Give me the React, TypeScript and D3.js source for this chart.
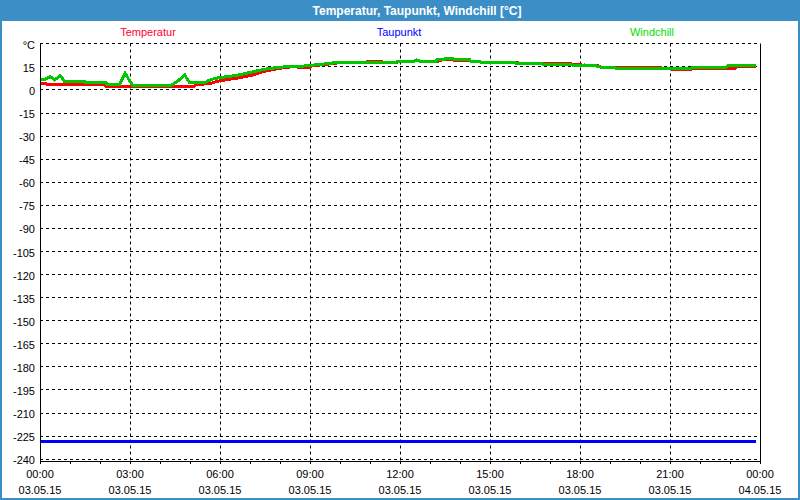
import React from "react";
import * as d3 from "d3";

const title = "Temperatur, Taupunkt, Windchill [°C]";
const seriesNames = ["Temperatur", "Taupunkt", "Windchill"];
const seriesColors = ["#ff0000", "#0000ff", "#00c800"];
const legendColors = ["#ff0033", "#0000ff", "#00dd00"];

const yTicks = d3.range(-240, 31, 15);
const xTickHours = [0, 3, 6, 9, 12, 15, 18, 21, 24];
const xTimeLabels = ["00:00", "03:00", "06:00", "09:00", "12:00", "15:00", "18:00", "21:00", "00:00"];
const xDateLabels = ["03.05.15", "03.05.15", "03.05.15", "03.05.15", "03.05.15", "03.05.15", "03.05.15", "03.05.15", "04.05.15"];

// hours since 03.05.15 00:00
const tempTimes = [0, 0.2, 0.25, 2.15, 2.2, 3.15, 3.38, 4.37, 4.42, 5.15, 5.2, 5.7, 5.93, 6.6, 7.04, 7.49, 7.93, 8.38, 8.7, 9.0, 9.05, 9.49, 9.8, 10.04, 10.38, 10.42, 10.88, 10.9, 11.38, 11.42, 11.9, 11.93, 12.49, 12.54, 12.66, 13.21, 13.35, 13.49, 13.77, 13.8, 14.32, 14.35, 14.66, 14.7, 15.82, 15.85, 16.0, 16.71, 16.75, 17.71, 17.75, 17.9, 17.93, 18.16, 18.2, 18.54, 18.66, 18.7, 19.16, 19.2, 20.71, 20.75, 21.04, 21.08, 21.71, 21.75, 23.16, 23.2, 23.88];
const tempValues = [3.9, 3.9, 3.2, 3.2, 2.1, 2.1, 1.7, 1.7, 2.1, 2.1, 3.0, 4.0, 5.4, 7.5, 9.1, 11.9, 13.6, 14.7, 14.5, 14.5, 15.3, 16.2, 17.0, 17.5, 17.5, 17.2, 17.2, 18.2, 18.2, 17.5, 17.5, 18.4, 18.4, 19.0, 18.4, 18.0, 19.0, 19.4, 19.6, 19.1, 19.1, 18.4, 18.4, 17.7, 17.7, 17.6, 17.1, 17.1, 16.6, 16.6, 16.0, 16.0, 16.0, 15.8, 15.6, 15.6, 15.0, 14.5, 14.5, 14.1, 14.1, 13.6, 13.4, 13.0, 13.0, 13.8, 13.8, 14.7, 14.7];

const dewTimes = [0, 23.88];
const dewValues = [-228.8, -228.8];

const chillTimes = [0, 0.17, 0.34, 0.49, 0.68, 0.82, 1.49, 1.53, 2.2, 2.23, 2.66, 2.84, 3.08, 3.37, 3.4, 4.27, 4.4, 4.6, 4.82, 4.99, 5.49, 5.6, 5.82, 5.93, 6.6, 7.04, 7.49, 7.93, 8.38, 8.99, 9.16, 9.49, 9.8, 11.35, 11.39, 11.88, 11.93, 12.49, 12.54, 12.66, 13.21, 13.23, 13.49, 13.5, 13.77, 13.8, 14.32, 14.35, 14.66, 14.7, 15.82, 15.85, 16.71, 16.75, 17.71, 17.75, 18.16, 18.2, 18.54, 18.58, 18.66, 18.7, 19.16, 19.2, 21.04, 21.08, 21.71, 21.75, 22.88, 22.92, 23.88];
const chillValues = [6.5, 6.5, 8.4, 6.2, 9.0, 5.2, 5.2, 4.3, 4.3, 3.4, 3.4, 10.4, 2.8, 2.8, 2.3, 2.3, 3.0, 5.5, 9.5, 4.3, 4.3, 5.6, 7.1, 7.5, 9.3, 11.2, 13.2, 14.3, 15.1, 15.3, 16.0, 16.6, 17.3, 17.3, 17.6, 17.6, 18.4, 18.4, 19.2, 18.4, 18.4, 19.5, 19.5, 19.9, 19.9, 19.3, 19.3, 18.4, 18.4, 17.7, 17.7, 17.1, 17.1, 16.4, 16.4, 15.8, 15.9, 15.3, 15.3, 14.7, 14.7, 14.3, 14.3, 13.4, 13.4, 13.6, 13.6, 14.5, 14.5, 15.3, 15.3];

const W = 800;
const H = 500;
const FONT = "'Liberation Sans', Arial, sans-serif";

export default function App() {
  const x = d3.scaleLinear().domain([0, 24]).range([40, 760]);
  const y = d3.scaleLinear().domain([-240, 30]).range([458.7, 43.3]);
  const yBottom = Math.round(y(-241.5));
  const xMinor = d3.range(0, 25, 1);

  const line = d3
    .line<[number, number]>()
    .x((d) => x(d[0]))
    .y((d) => y(d[1]));

  const series = [
    { times: tempTimes, values: tempValues },
    { times: dewTimes, values: dewValues },
    { times: chillTimes, values: chillValues },
  ];

  const px = (v: number) => Math.round(v) + 0.5;

  return (
    <div style={{ position: "absolute", left: 0, top: 0 }}>
      <svg width={W} height={H} style={{ display: "block" }} fontFamily={FONT}>
        <rect x={0} y={0} width={W} height={H} fill="#3c8fc6" />
        <rect x={2} y={21} width={W - 4} height={H - 23} fill="#ffffff" />
        <text x={417} y={15} textAnchor="middle" fill="#ffffff" fontWeight="bold" fontSize={12}>
          {title}
        </text>

        {seriesNames.map((n, i) => (
          <text key={n} x={[148, 399, 652][i]} y={36} textAnchor="middle" fontSize={11} fill={legendColors[i]}>
            {n}
          </text>
        ))}

        {/* horizontal gridlines */}
        {yTicks.map((t) => (
          <line key={"h" + t} x1={x(0)} x2={x(24)} y1={px(y(t))} y2={px(y(t))} stroke="#000" strokeDasharray="3,3" />
        ))}
        {/* vertical gridlines */}
        {xTickHours.slice(1, -1).map((h) => (
          <line key={"v" + h} x1={px(x(h))} x2={px(x(h))} y1={px(y(30))} y2={yBottom + 3} stroke="#000" strokeDasharray="3,3" />
        ))}

        {/* series */}
        {series.map((s, i) => (
          <path
            key={i}
            d={line(s.times.map((t, j) => [t, s.values[j]] as [number, number])) || ""}
            fill="none"
            stroke={seriesColors[i]}
            strokeWidth={3}
            shapeRendering="crispEdges"
          />
        ))}

        {/* axes frame */}
        <line x1={px(x(0))} x2={px(x(0))} y1={px(y(30))} y2={yBottom + 1} stroke="#000" />
        <line x1={px(x(24))} x2={px(x(24))} y1={px(y(30))} y2={yBottom + 1} stroke="#000" />
        <line x1={x(0)} x2={x(24) + 1} y1={yBottom + 0.5} y2={yBottom + 0.5} stroke="#000" />
        {xMinor.map((h) => (
          <line key={"m" + h} x1={px(x(h))} x2={px(x(h))} y1={yBottom} y2={yBottom + 3} stroke="#000" />
        ))}

        {/* y labels */}
        {yTicks.map((t) => (
          <text key={"yl" + t} x={35} y={y(t) + 5.5} textAnchor="end" fontSize={11} fill="#000">
            {t === 30 ? "°C" : String(t)}
          </text>
        ))}

        {/* x labels */}
        {xTickHours.map((h, i) => (
          <g key={"xl" + i}>
            <text x={x(h)} y={478} textAnchor="middle" fontSize={11} fill="#000">
              {xTimeLabels[i]}
            </text>
            <text x={x(h)} y={494} textAnchor="middle" fontSize={11} fill="#000">
              {xDateLabels[i]}
            </text>
          </g>
        ))}
      </svg>
    </div>
  );
}
